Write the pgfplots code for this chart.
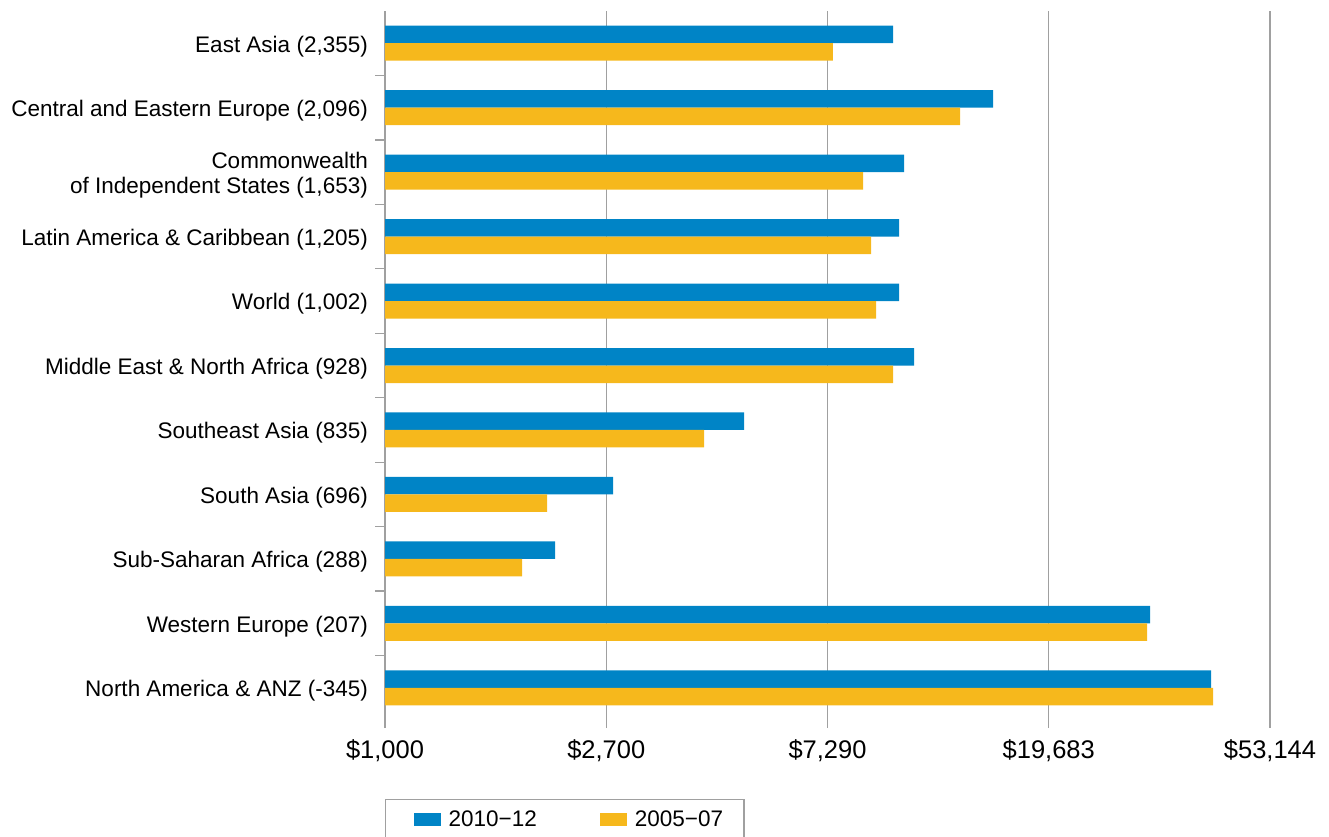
\documentclass[border=0pt]{standalone}
\usepackage{pgfplots}
\pgfplotsset{compat=1.18}
\usepackage{fontspec}
\setmainfont{Liberation Sans}
\definecolor{cblue}{HTML}{0084C6}
\definecolor{cyellow}{HTML}{F6B81C}
\definecolor{cgrid}{HTML}{A0A0A0}
\begin{document}
\begin{tikzpicture}
\path[use as bounding box] (-385pt,-116pt) rectangle (944pt,720pt);
\begin{axis}[
  scale only axis, width=885pt, height=709pt,
  at={(0pt,0pt)}, anchor=south west,
  xmode=log, log origin x=infty, xmin=1000, xmax=53144,
  ymin=-0.5, ymax=10.5,
  xbar, bar width=17.5pt,
  xtick={1000,2700,7290,19683,53144},
  xticklabels={{\$1,000},{\$2,700},{\$7,290},{\$19,683},{\$53,144}},
  ytick={0,1,2,3,4,5,6,7,8,9,10},
  yticklabels={{North America \& ANZ (-345)},{Western Europe (207)},{Sub-Saharan Africa (288)},{South Asia (696)},{Southeast Asia (835)},{Middle East \& North Africa (928)},{World (1,002)},{Latin America \& Caribbean (1,205)},{Commonwealth\\of Independent States (1,653)},{Central and Eastern Europe (2,096)},{East Asia (2,355)}},
  minor ytick={0.5,1.5,2.5,3.5,4.5,5.5,6.5,7.5,8.5,9.5},
  tick align=outside, major tick length=8pt, minor tick length=10pt,
  xtick pos=left, ytick pos=left,
  every major y tick/.style={draw=none},
  every minor y tick/.style={cgrid, line width=1.2pt},
  every major x tick/.style={cgrid, line width=1.2pt},
  xmajorgrids, major grid style={cgrid, line width=1.2pt},
  axis line style={draw=none},
  xticklabel style={font=\fontsize{25.5}{29}\selectfont, text=black, yshift=-8pt},
  yticklabel style={font=\fontsize{22.5}{25}\selectfont, align=right, inner sep=0pt, xshift=-9pt, yshift=-3pt, text=black},
  legend style={at={(0,0)}, anchor=north west, yshift=-79pt, draw=cgrid, line width=1.2pt,
    legend columns=2, font=\fontsize{22.5}{26}\selectfont, inner xsep=13pt, inner ysep=9pt,
    nodes={inner xsep=8pt, inner ysep=2pt},
    /tikz/every even column/.append style={column sep=40pt}},
  legend image code/.code={\path[draw=none,fill=none] (0pt,-6.5pt) rectangle (42pt,6.5pt);\fill[#1] (15pt,-6.5pt) rectangle (42pt,6.5pt);},
]
\addplot[fill=cblue, draw=none, bar shift=8.75pt] coordinates {
  (40780,0) (31010,1) (2145,2) (2783,3) (5011,4) (10749,5) (10050,6) (10050,7) (10278,8) (15325,9) (9782,10)};
\addlegendentry{2010−12}
\addplot[fill=cyellow, draw=none, bar shift=-8.75pt] coordinates {
  (41150,0) (30594,1) (1850,2) (2070,3) (4188,4) (9782,5) (9063,6) (8862,7) (8550,8) (13214,9) (7471,10)};
\addlegendentry{2005−07}
\end{axis}
\end{tikzpicture}
\end{document}
